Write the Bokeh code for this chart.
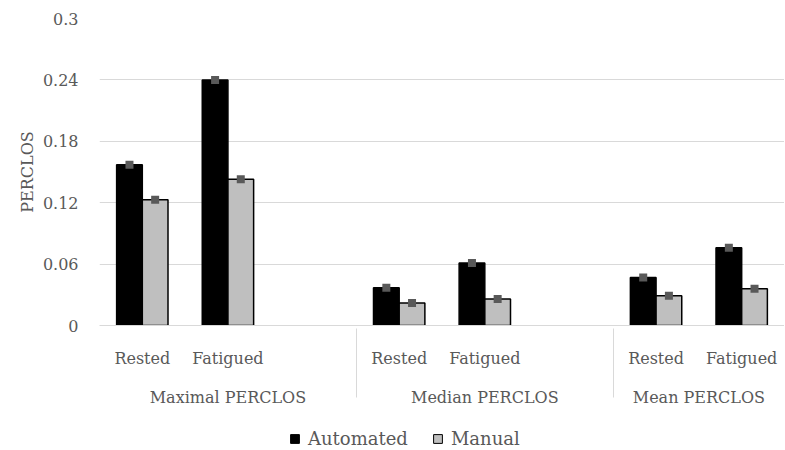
from bokeh.plotting import figure
from bokeh.layouts import column
from bokeh.models import (FactorRange, ColumnDataSource, Legend, LegendItem,
                          FixedTicker, NumeralTickFormatter, Range1d)
from bokeh.transform import dodge
from bokeh.embed import file_html
from bokeh.resources import INLINE

groups = ["Maximal PERCLOS", "Median PERCLOS", "Mean PERCLOS"]
conditions = ["Rested", "Fatigued"]
automated = [0.157, 0.240, 0.037, 0.061, 0.047, 0.076]
manual = [0.123, 0.143, 0.022, 0.026, 0.029, 0.036]
y_ticks = [0, 0.06, 0.12, 0.18, 0.24, 0.3]
series = ["Automated", "Manual"]

FONT = "DejaVu Serif"
TXT = "#595959"
FILLS = ["black", "#bfbfbf"]

factors = []
for g in groups:
    factors += [(g, c) for c in conditions]
    if g != groups[-1]:
        factors.append((g, " "))

xs = [(g, c) for g in groups for c in conditions]
src = ColumnDataSource(dict(x=xs, automated=automated, manual=manual))

p = figure(x_range=FactorRange(factors=factors, group_padding=0, factor_padding=0,
                               subgroup_padding=0, range_padding=0),
           y_range=(0, 0.3), width=784, height=420,
           output_backend="svg", toolbar_location=None,
           min_border_left=99, min_border_right=0, min_border_top=18,
           min_border_bottom=95)
p.outline_line_color = None

for col, off, fill in [("automated", -0.15, FILLS[0]), ("manual", 0.15, FILLS[1])]:
    p.vbar(x=dodge("x", off, range=p.x_range), top=col, width=0.3,
           source=src, fill_color=fill, line_color="black", line_width=1.5)
    p.scatter(x=dodge("x", off, range=p.x_range), y=col, source=src,
              marker="square", size=8, fill_color="#595959", line_color=None)

p.xgrid.grid_line_color = None
p.ygrid.grid_line_color = "#d9d9d9"
p.ygrid.ticker = FixedTicker(ticks=y_ticks)

ya = p.yaxis[0]
ya.ticker = FixedTicker(ticks=y_ticks)
ya.formatter = NumeralTickFormatter(format="0.[00]")
ya.axis_line_color = None
ya.major_tick_line_color = None
ya.minor_tick_line_color = None
ya.major_label_standoff = 15
ya.major_label_text_font = FONT
ya.major_label_text_font_size = "16px"
ya.major_label_text_color = TXT
ya.axis_label = "PERCLOS"
ya.axis_label_text_font = FONT
ya.axis_label_text_font_size = "16px"
ya.axis_label_text_font_style = "normal"
ya.axis_label_text_color = TXT
ya.axis_label_standoff = 3

xa = p.xaxis[0]
xa.axis_line_color = "#d9d9d9"
xa.major_tick_line_color = None
xa.minor_tick_line_color = None
xa.major_label_standoff = 17
xa.major_label_text_font = FONT
xa.major_label_text_font_size = "16px"
xa.major_label_text_color = TXT
xa.major_label_orientation = "horizontal"
xa.group_text_font = FONT
xa.group_text_font_size = "16px"
xa.group_text_color = TXT
xa.group_text_font_style = "normal"
xa.separator_line_color = "#d9d9d9"
xa.separator_line_width = 1

# legend strip below the chart (its bars lie outside its visible y range)
lf = figure(width=784, height=29, output_backend="svg", toolbar_location=None,
            min_border=0, x_axis_type=None, y_axis_type=None,
            x_range=FactorRange(factors=factors), y_range=Range1d(1, 2))
lf.outline_line_color = None
lf.xgrid.visible = False
lf.ygrid.visible = False
items = []
for name, col, fill in zip(series, ["automated", "manual"], FILLS):
    r = lf.vbar(x="x", top=col, width=0.3, source=src, fill_color=fill,
                line_color="black", line_width=1)
    items.append(LegendItem(label=name, renderers=[r]))
legend = Legend(items=items, orientation="horizontal", location=(190, 0),
                border_line_color=None, background_fill_alpha=0,
                label_text_font=FONT, label_text_font_size="18px",
                label_text_color=TXT, glyph_width=11, glyph_height=11,
                label_standoff=8, spacing=24, padding=2, margin=0)
lf.add_layout(legend, "center")

layout = column(p, lf, spacing=0)
open("out.html", "w").write(file_html(layout, INLINE))
